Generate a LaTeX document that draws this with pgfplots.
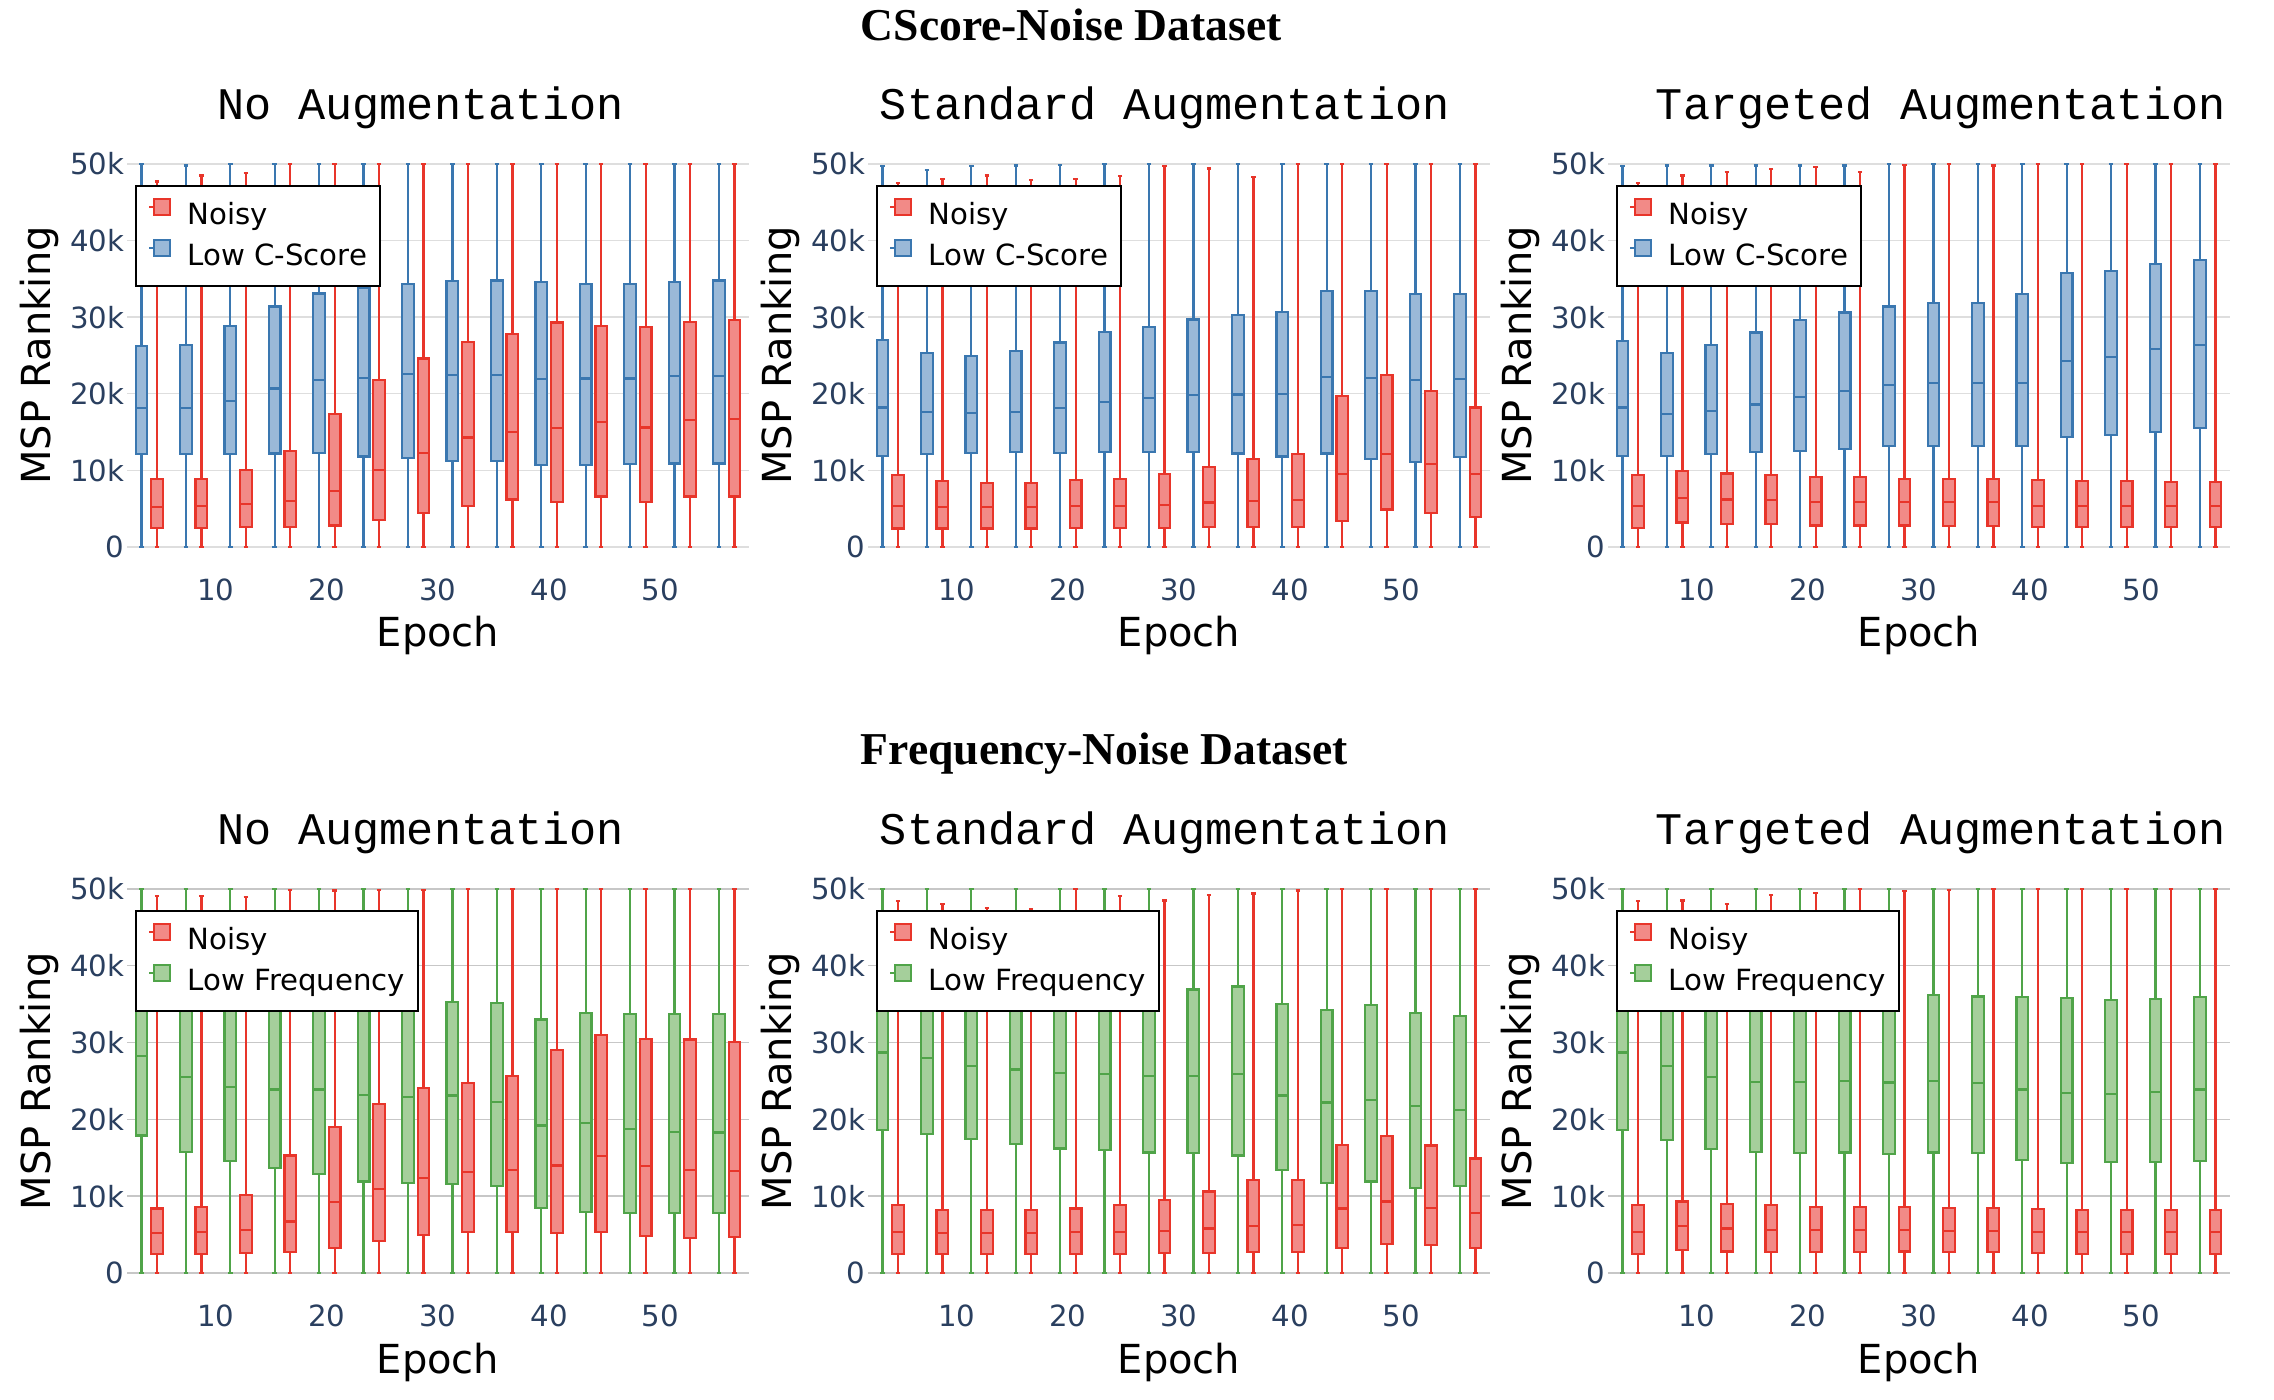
\documentclass[border=0pt]{standalone}
\usepackage{fontspec}
\setmainfont{DejaVu Sans}
\newfontfamily\serifbold{Liberation Serif}
\newfontfamily\courier{Liberation Mono}
\usepackage{pgfplots}
\pgfplotsset{compat=1.18}
\usepgfplotslibrary{statistics}
\usepackage{pgfplotstable}

\definecolor{cred}{HTML}{E8352A}
\definecolor{credf}{HTML}{F28A87}
\definecolor{cblue}{HTML}{3A77B0}
\definecolor{cbluef}{HTML}{9AB9D8}
\definecolor{cgreen}{HTML}{50A449}
\definecolor{cgreenf}{HTML}{A5CF9B}
\definecolor{axiscol}{HTML}{2A3F5F}

% columns: epoch | low group: q1 median q3 upper whisker | noisy: q1 median q3 upper whisker (values in k)
\pgfplotstableread{
ep aq1 amed aq3 auw bq1 bmed bq3 buw
4  12.1 18.1 26.2 50   2.5 5.2 8.9  47.7
8  12.1 18.1 26.4 49.8 2.5 5.3 8.9  48.5
12 12.1 19.1 28.8 50   2.6 5.6 10.0 48.8
16 12.2 20.7 31.4 50   2.6 6.0 12.5 50
20 12.3 21.8 33.1 50   2.8 7.3 17.4 50
24 11.8 22.1 33.8 50   3.5 10.1 21.8 50
28 11.6 22.6 34.3 50   4.4 12.3 24.6 50
32 11.2 22.4 34.7 50   5.3 14.3 26.8 50
36 11.2 22.5 34.8 50   6.2 15.0 27.8 50
40 10.7 21.9 34.6 50   5.9 15.5 29.3 50
44 10.7 22.0 34.3 50   6.6 16.3 28.9 50
48 10.8 22.0 34.3 50   5.9 15.6 28.7 50
52 10.9 22.3 34.6 50   6.6 16.6 29.4 50
56 10.9 22.3 34.8 50   6.6 16.7 29.6 50
}\noaugC
\pgfplotstableread{
ep aq1 amed aq3 auw bq1 bmed bq3 buw
4  11.9 18.2 27.0 49.7 2.4 5.3 9.4  47.5
8  12.1 17.6 25.3 49.2 2.4 5.2 8.6  48.0
12 12.3 17.5 24.9 49.7 2.4 5.2 8.4  48.5
16 12.4 17.6 25.6 49.8 2.4 5.2 8.4  47.9
20 12.3 18.1 26.7 49.9 2.5 5.3 8.7  48.0
24 12.4 18.9 28.1 50   2.5 5.3 8.9  48.4
28 12.4 19.4 28.7 50   2.5 5.5 9.5  49.7
32 12.4 19.8 29.7 50   2.6 5.8 10.4 49.4
36 12.2 19.9 30.3 50   2.6 6.0 11.5 48.3
40 11.8 20.0 30.7 50   2.6 6.1 12.1 50
44 12.2 22.2 33.4 50   3.4 9.5 19.7 50
48 11.5 22.1 33.4 50   4.9 12.1 22.5 50
52 11.1 21.8 33.0 50   4.4 10.8 20.4 50
56 11.7 21.9 33.0 50   3.9 9.5 18.2 50
}\stdaugC
\pgfplotstableread{
ep aq1 amed aq3 auw bq1 bmed bq3 buw
4  11.9 18.2 26.9 49.7 2.5 5.3 9.4 47.5
8  11.9 17.4 25.3 49.8 3.2 6.4 9.9 48.5
12 12.1 17.7 26.4 49.8 3.0 6.2 9.6 49.0
16 12.4 18.6 28.0 49.8 3.0 6.1 9.4 49.3
20 12.5 19.6 29.6 49.8 2.8 5.9 9.1 49.6
24 12.8 20.4 30.6 49.8 2.8 5.9 9.1 49.0
28 13.2 21.1 31.4 50   2.8 5.9 8.9 49.9
32 13.2 21.4 31.9 50   2.7 5.9 8.9 50
36 13.2 21.4 31.9 50   2.7 5.9 8.9 49.8
40 13.2 21.4 33.0 50   2.6 5.4 8.7 50
44 14.4 24.3 35.8 50   2.6 5.4 8.6 50
48 14.6 24.8 36.0 50   2.6 5.4 8.6 50
52 15.0 25.8 36.9 50   2.6 5.4 8.5 50
56 15.5 26.4 37.5 50   2.6 5.4 8.5 50
}\tgtaugC
\pgfplotstableread{
ep aq1 amed aq3 auw bq1 bmed bq3 buw
4  17.9 28.3 43.0 50 2.5 5.2 8.4  49.1
8  15.8 25.5 42.0 50 2.5 5.3 8.6  49.1
12 14.6 24.2 41.0 50 2.6 5.6 10.2 49.0
16 13.7 23.9 40.0 50 2.7 6.7 15.3 49.9
20 12.9 23.9 39.0 50 3.3 9.2 19.0 49.8
24 11.9 23.2 38.0 50 4.2 10.9 22.0 49.9
28 11.7 22.9 37.5 50 4.9 12.4 24.1 49.9
32 11.6 23.1 35.3 50 5.3 13.1 24.7 50
36 11.3 22.3 35.2 50 5.3 13.4 25.7 50
40 8.5  19.2 33.0 50 5.2 14.0 29.0 50
44 7.9  19.5 33.9 50 5.3 15.2 31.0 50
48 7.8  18.7 33.7 50 4.8 13.9 30.5 50
52 7.8  18.4 33.7 50 4.6 13.4 30.4 50
56 7.8  18.3 33.7 50 4.7 13.3 30.1 50
}\noaugF
\pgfplotstableread{
ep aq1 amed aq3 auw bq1 bmed bq3 buw
4  18.6 28.7 44.0 50 2.5 5.3 8.8  48.4
8  18.1 28.0 43.0 50 2.5 5.2 8.2  48.0
12 17.4 27.0 42.0 50 2.5 5.2 8.2  47.5
16 16.8 26.5 41.0 50 2.5 5.2 8.2  47.4
20 16.2 26.0 40.0 50 2.5 5.3 8.4  50
24 16.0 25.9 39.5 50 2.5 5.3 8.8  49.1
28 15.7 25.7 39.0 50 2.6 5.5 9.5  48.5
32 15.6 25.7 36.9 50 2.6 5.8 10.6 49.2
36 15.3 25.9 37.3 50 2.7 6.1 12.1 49.4
40 13.4 23.1 35.0 50 2.7 6.2 12.1 49.8
44 11.7 22.2 34.2 50 3.3 8.4 16.7 50
48 11.9 22.5 34.9 50 3.8 9.3 17.8 50
52 11.1 21.7 33.8 50 3.6 8.5 16.6 50
56 11.3 21.2 33.5 50 3.3 7.8 14.9 50
}\stdaugF
\pgfplotstableread{
ep aq1 amed aq3 auw bq1 bmed bq3 buw
4  18.6 28.7 43.0 50 2.5 5.3 8.8 48.4
8  17.3 27.0 41.0 50 3.0 6.1 9.3 48.5
12 16.1 25.5 39.0 50 2.8 5.8 9.0 48.0
16 15.8 24.9 38.0 50 2.7 5.6 8.8 49.2
20 15.6 24.9 37.5 50 2.7 5.6 8.6 49.5
24 15.7 25.0 37.0 50 2.7 5.6 8.6 50
28 15.5 24.8 37.0 50 2.8 5.6 8.6 49.7
32 15.7 25.0 36.2 50 2.7 5.5 8.5 49.9
36 15.6 24.7 36.0 50 2.7 5.5 8.5 50
40 14.7 23.9 35.9 50 2.6 5.3 8.3 50
44 14.3 23.4 35.8 50 2.5 5.3 8.2 50
48 14.5 23.3 35.5 50 2.5 5.3 8.2 50
52 14.5 23.6 35.7 50 2.5 5.3 8.2 50
56 14.6 23.9 35.9 50 2.5 5.3 8.2 50
}\tgtaugF

% one box: #1 table, #2 row, #3 column prefix, #4 line, #5 fill, #6 x position
\newcommand\onebox[6]{%
  \pgfplotstablegetelem{#2}{#3q1}\of#1\let\vqa\pgfplotsretval
  \pgfplotstablegetelem{#2}{#3med}\of#1\let\vmed\pgfplotsretval
  \pgfplotstablegetelem{#2}{#3q3}\of#1\let\vqc\pgfplotsretval
  \pgfplotstablegetelem{#2}{#3uw}\of#1\let\vuw\pgfplotsretval
  \edef\tmp{\noexpand\addplot[forget plot, draw=#4, fill=#5, line width=0.55pt,
    boxplot/draw direction=y,
    boxplot prepared={lower whisker=0, lower quartile=\vqa, median=\vmed,
      upper quartile=\vqc, upper whisker=\vuw, draw position=#6,
      box extend=1.05, whisker extend=0.4}] coordinates {};}%
  \tmp}

% one panel: low-score boxes left of each epoch, noisy boxes right of it
\newcommand\drawboxes[3]{%
  \pgfplotsinvokeforeach{0,...,13}{%
    \onebox{#1}{##1}{a}{#2}{#3}{4*##1+3.3}%
    \onebox{#1}{##1}{b}{cred}{credf}{4*##1+4.7}%
  }}

\pgfplotsset{panel/.style={
    scale only axis, width=155.5pt, height=95.75pt, anchor=south west,
    xmin=2, xmax=58, ymin=0, ymax=50, clip=false,
    boxplot/draw direction=y,
    xtick={10,20,30,40,50},
    ytick={0,10,20,30,40,50}, yticklabels={0,10k,20k,30k,40k,50k},
    /pgf/number format/assume math mode=true,
    axis line style={draw=none}, major tick length=0pt,
    ymajorgrids, grid style={black!13, line width=0.35pt},
    tick label style={font=\fontsize{7.3}{8}\selectfont, text=axiscol},
    yticklabel style={anchor=east, inner sep=0pt, xshift=-0.5pt},
    xticklabel style={anchor=center, inner sep=0pt, yshift=-10.7pt},
    xlabel={Epoch}, ylabel={MSP Ranking},
    label style={font=\fontsize{8.6}{10}\selectfont, text=axiscol},
    every axis x label/.style={at={(axis description cs:0.5,-0.232)}, anchor=center},
    every axis y label/.style={at={(axis description cs:-0.1408,0.5)}, rotate=90, anchor=center},
    every axis title shift=0pt,
    title style={font=\courier\fontsize{11.3}{13}\selectfont, anchor=base, yshift=0pt},
    legend cell align=left,
    legend image code/.code={%
      \path (-1.15pt,2.65pt) -- (4pt,2.65pt);
      \draw[##1, line width=0.5pt] (0pt,0.65pt) rectangle (4pt,4.65pt);},
    legend style={at={(axis description cs:0.0122,0.945)}, anchor=north west,
      draw=black, line width=0.5pt, fill=white,
      inner xsep=3.2pt, inner ysep=3pt, row sep=1.6pt,
      font=\fontsize{7.3}{8}\selectfont, text=black,
      nodes={inner sep=0pt, text height=5.5pt, text depth=2pt},
      /tikz/every odd column/.append style={column sep=4.15pt}},
  }}

\begin{document}
\begin{tikzpicture}
\useasboundingbox (0,0) rectangle (568.5pt,350pt);

\node[anchor=base west, inner sep=0pt, font=\serifbold\bfseries\fontsize{11.4}{13}\selectfont]
  at (215pt,339.75pt) {CScore-Noise Dataset};
\node[anchor=base west, inner sep=0pt, font=\serifbold\bfseries\fontsize{11.4}{13}\selectfont]
  at (215pt,158.8pt) {Frequency-Noise Dataset};

% top row
\begin{axis}[panel, at={(31.75pt,213.25pt)}, title={No Augmentation},
  title style={at={(axis description cs:0.472,1.115)}}]
\drawboxes{\noaugC}{cblue}{cbluef}
\addlegendimage{draw=cred, fill=credf}\addlegendentry{Noisy}
\addlegendimage{draw=cblue, fill=cbluef}\addlegendentry{Low C-Score}
\end{axis}
\begin{axis}[panel, at={(217pt,213.25pt)}, title={Standard Augmentation},
  title style={at={(axis description cs:0.477,1.115)}}]
\drawboxes{\stdaugC}{cblue}{cbluef}
\addlegendimage{draw=cred, fill=credf}\addlegendentry{Noisy}
\addlegendimage{draw=cblue, fill=cbluef}\addlegendentry{Low C-Score}
\end{axis}
\begin{axis}[panel, at={(402pt,213.25pt)}, title={Targeted Augmentation},
  title style={at={(axis description cs:0.535,1.115)}}]
\drawboxes{\tgtaugC}{cblue}{cbluef}
\addlegendimage{draw=cred, fill=credf}\addlegendentry{Noisy}
\addlegendimage{draw=cblue, fill=cbluef}\addlegendentry{Low C-Score}
\end{axis}

% bottom row
\begin{axis}[panel, at={(31.75pt,31.75pt)}, height=96pt, title={No Augmentation},
  grid style={black!22}, title style={at={(axis description cs:0.472,1.115)}}]
\drawboxes{\noaugF}{cgreen}{cgreenf}
\addlegendimage{draw=cred, fill=credf}\addlegendentry{Noisy}
\addlegendimage{draw=cgreen, fill=cgreenf}\addlegendentry{Low Frequency}
\end{axis}
\begin{axis}[panel, at={(217pt,31.75pt)}, height=96pt, title={Standard Augmentation},
  grid style={black!22}, title style={at={(axis description cs:0.477,1.115)}}]
\drawboxes{\stdaugF}{cgreen}{cgreenf}
\addlegendimage{draw=cred, fill=credf}\addlegendentry{Noisy}
\addlegendimage{draw=cgreen, fill=cgreenf}\addlegendentry{Low Frequency}
\end{axis}
\begin{axis}[panel, at={(402pt,31.75pt)}, height=96pt, title={Targeted Augmentation},
  grid style={black!22}, title style={at={(axis description cs:0.535,1.115)}}]
\drawboxes{\tgtaugF}{cgreen}{cgreenf}
\addlegendimage{draw=cred, fill=credf}\addlegendentry{Noisy}
\addlegendimage{draw=cgreen, fill=cgreenf}\addlegendentry{Low Frequency}
\end{axis}
\end{tikzpicture}
\end{document}
